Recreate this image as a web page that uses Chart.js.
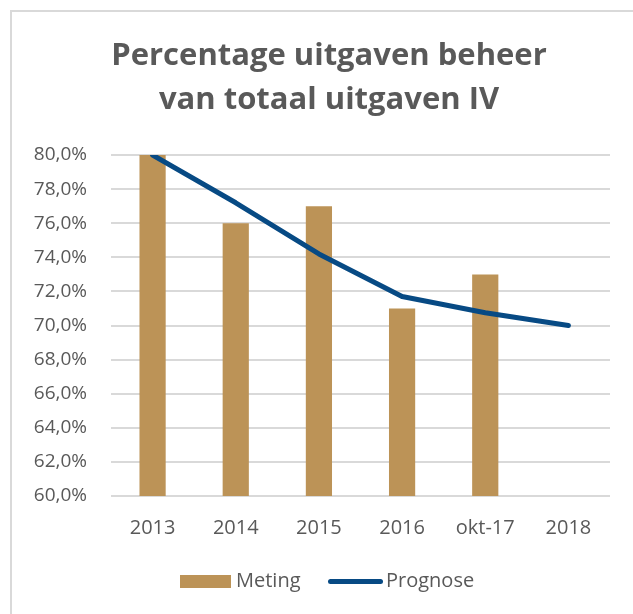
<!DOCTYPE html>
<html>
<head>
<meta charset="utf-8">
<script src="https://cdn.jsdelivr.net/npm/chart.js@4"></script>
<style>
  html, body { margin: 0; padding: 0; background: #fff; }
  #wrap { position: relative; width: 633px; height: 614px; overflow: hidden; font-family: "Open Sans", sans-serif; }
  #frame { position: absolute; left: 10px; top: 10px; width: 700px; height: 700px; border-left: 2px solid #d9d9d9; border-top: 2px solid #d9d9d9; }
  #chart { position: absolute; left: 0; top: 0; }
  .lg { position: absolute; color: #595959; font-size: 20px; line-height: 20px; }
</style>
</head>
<body>
<div id="wrap">
  <div id="frame"></div>
  <canvas id="chart" width="633" height="614"></canvas>
  <div style="position:absolute;left:180px;top:575px;width:51px;height:13px;background:#bc9357"></div>
  <div class="lg" style="left:236px;top:570px">Meting</div>
  <div style="position:absolute;left:328px;top:579px;width:55px;height:5px;border-radius:3px;background:#074a84"></div>
  <div class="lg" style="left:386px;top:570px">Prognose</div>
</div>
<script>
const categories = ["2013", "2014", "2015", "2016", "okt-17", "2018"];
const meting = [80.0, 76.0, 77.0, 71.0, 73.0, null];
const prognose = [80.0, 77.2, 74.2, 71.7, 70.75, 70.0];
const yMin = 60, yMax = 80, yStep = 2;

const grey = "#595959";

// nudge the title to the right, like in the original picture
const shiftTitle = {
    id: "shiftTitle",
    afterLayout(chart) {
        chart.titleBlock.left += 24;
        chart.titleBlock.right += 24;
    }
};

new Chart(document.getElementById("chart"), {
    type: "bar",
    data: {
        labels: categories,
        datasets: [
            {
                type: "line",
                label: "Prognose",
                data: prognose,
                borderColor: "#074a84",
                backgroundColor: "#074a84",
                borderWidth: 5,
                borderCapStyle: "round",
                borderJoinStyle: "round",
                pointRadius: 0,
                tension: 0,
                order: 0
            },
            {
                label: "Meting",
                data: meting,
                backgroundColor: "#bc9357",
                categoryPercentage: 1,
                barPercentage: 0.315,
                order: 1
            }
        ]
    },
    plugins: [shiftTitle],
    options: {
        responsive: false,
        animation: false,
        layout: { padding: { left: 0, right: 23, top: 0, bottom: 0 } },
        plugins: {
            legend: { display: false },
            tooltip: { enabled: false },
            title: {
                display: true,
                text: ["Percentage uitgaven beheer", "van totaal uitgaven IV"],
                color: grey,
                font: { family: "Open Sans", size: 31, weight: "bold", lineHeight: 1.42 },
                padding: { top: 34, bottom: 33 }
            }
        },
        scales: {
            x: {
                grid: { display: false, drawTicks: false },
                border: { display: false },
                ticks: { color: grey, font: { family: "Open Sans", size: 20 }, padding: 20 },
                afterFit: s => { s.height = 118; }
            },
            y: {
                min: yMin,
                max: yMax,
                grid: { color: "#d9d9d9", lineWidth: 2, drawTicks: false },
                border: { display: false },
                ticks: {
                    stepSize: yStep,
                    color: grey,
                    padding: 24,
                    font: { family: "Open Sans", size: 19 },
                    callback: v => v.toFixed(1).replace(".", ",") + "%"
                },
                afterFit: s => { s.width = 111; }
            }
        }
    }
});
</script>
</body>
</html>
